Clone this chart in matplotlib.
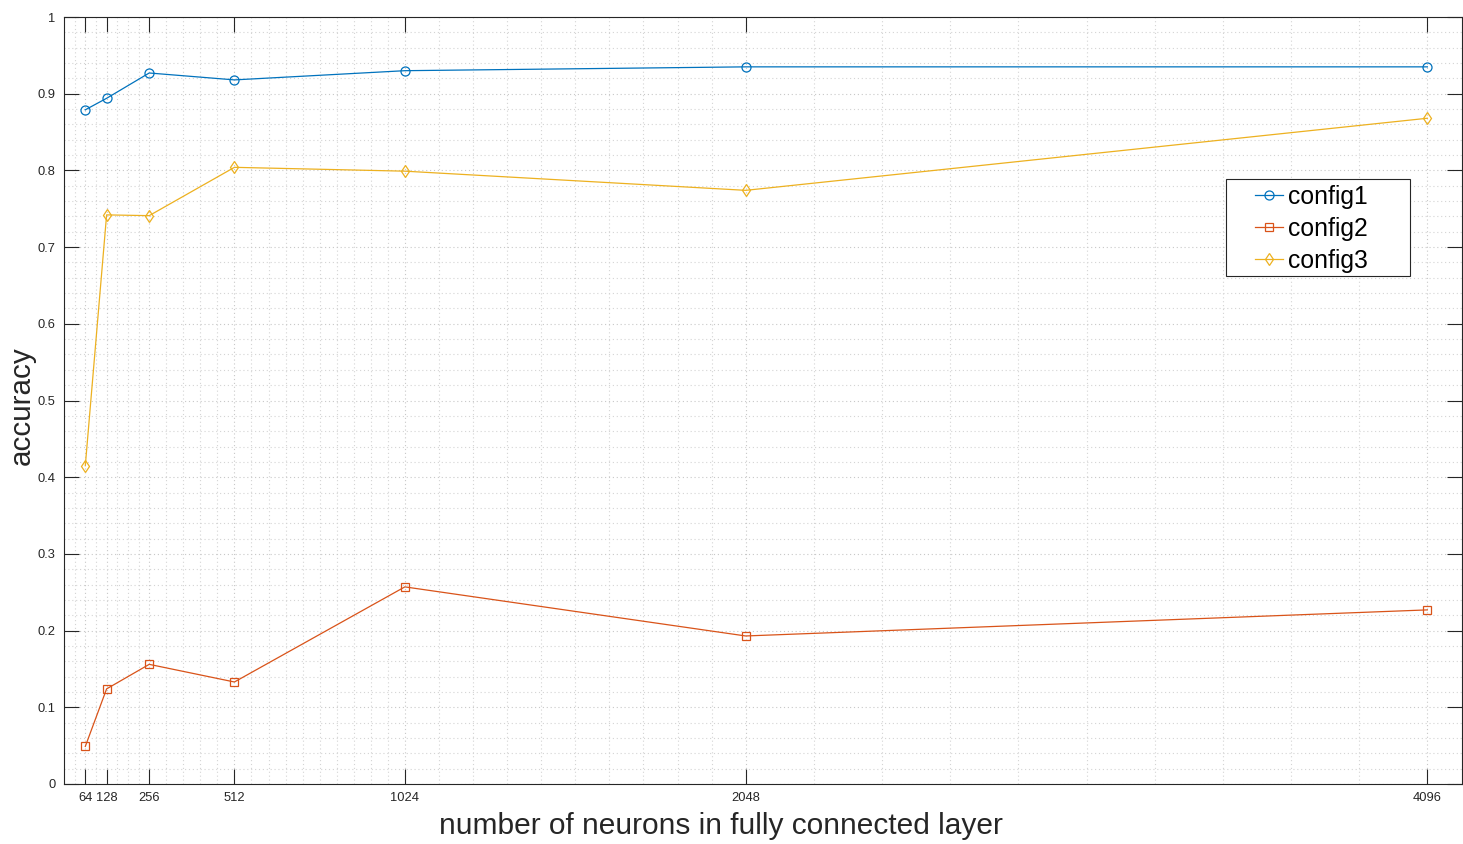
import matplotlib
matplotlib.use("Agg")
import matplotlib.pyplot as plt
from matplotlib.patches import Rectangle
import numpy as np

plt.rcParams['font.family'] = ['Liberation Sans', 'DejaVu Sans']

# neurons in the fully connected layer
neurons = [64, 128, 256, 512, 1024, 2048, 4096]
config1 = [0.879, 0.894, 0.927, 0.918, 0.930, 0.935, 0.935]
config2 = [0.049, 0.124, 0.156, 0.133, 0.257, 0.193, 0.227]
config3 = [0.415, 0.742, 0.741, 0.804, 0.799, 0.774, 0.868]
series_names = ['config1', 'config2', 'config3']

y_ticks = [0, 0.1, 0.2, 0.3, 0.4, 0.5, 0.6, 0.7, 0.8, 0.9, 1]
y_tick_labels = ['0', '0.1', '0.2', '0.3', '0.4', '0.5', '0.6', '0.7', '0.8', '0.9', '1']

colors = ['#0072BD', '#D95319', '#EDB120']
markers = ['o', 's', 'd']

fig = plt.figure(figsize=(14.63, 8.44), dpi=100)
ax = fig.add_axes([64 / 1463, 1 - 784 / 844, 1398 / 1463, 767 / 844])

for ys, name, c, m in zip([config1, config2, config3], series_names, colors, markers):
    ax.plot(neurons, ys, color=c, lw=0.9, marker=m, markersize=6.5 if m != 's' else 5.5,
            markerfacecolor='none', markeredgecolor=c, markeredgewidth=0.9, label=name)

ax.set_xlim(0, 4200)
ax.set_ylim(0, 1)
ax.set_xticks(neurons)
ax.set_xticklabels([str(n) for n in neurons])
ax.set_yticks(y_ticks)
ax.set_yticklabels(y_tick_labels)

# minor grid: each interval between major x ticks split evenly
x_edges = [0] + neurons
x_divs = [2, 2, 4, 5, 10, 10, 10]
x_minor = []
for a, b, n in zip(x_edges[:-1], x_edges[1:], x_divs):
    x_minor.extend(np.linspace(a, b, n + 1)[1:-1])
ax.set_xticks(x_minor, minor=True)
ax.set_yticks(np.arange(0, 1.0001, 0.02), minor=True)

ax.grid(which='major', color='#c8c8c8', linestyle=(0, (1, 2.5)), lw=0.8)
ax.grid(which='minor', color='#d4d4d4', linestyle=(0, (1, 2.5)), lw=0.8)
ax.set_axisbelow(True)

ax.tick_params(which='major', direction='in', length=10.5, width=0.8, color='#262626',
               top=True, right=True, labelsize=9.3, labelcolor='#262626', pad=6)
ax.tick_params(which='minor', length=0, top=True, right=True)
for s in ax.spines.values():
    s.set_color('#262626')
    s.set_linewidth(0.8)

ax.set_xlabel('number of neurons in fully connected layer', fontsize=21.5, color='#262626')
ax.xaxis.set_label_coords(0.47, -0.036)
ax.set_ylabel('accuracy', fontsize=21.3, color='#262626')
ax.yaxis.set_label_coords(-0.0205, 0.493)

# legend box with its entries
ax.add_patch(Rectangle((0.8312, 0.6623), 0.1316, 0.1265, transform=ax.transAxes,
                       facecolor='white', edgecolor='#262626', lw=0.8, zorder=5))
leg = ax.legend(loc='center left', bbox_to_anchor=((1255 - 64) / 1398, (784 - 229) / 767),
                borderaxespad=0, borderpad=0, frameon=False, fontsize=17.8,
                handlelength=1.15, handletextpad=0.17, labelspacing=0.32)
leg.set_zorder(6)

fig.savefig('out.png', dpi=100)
